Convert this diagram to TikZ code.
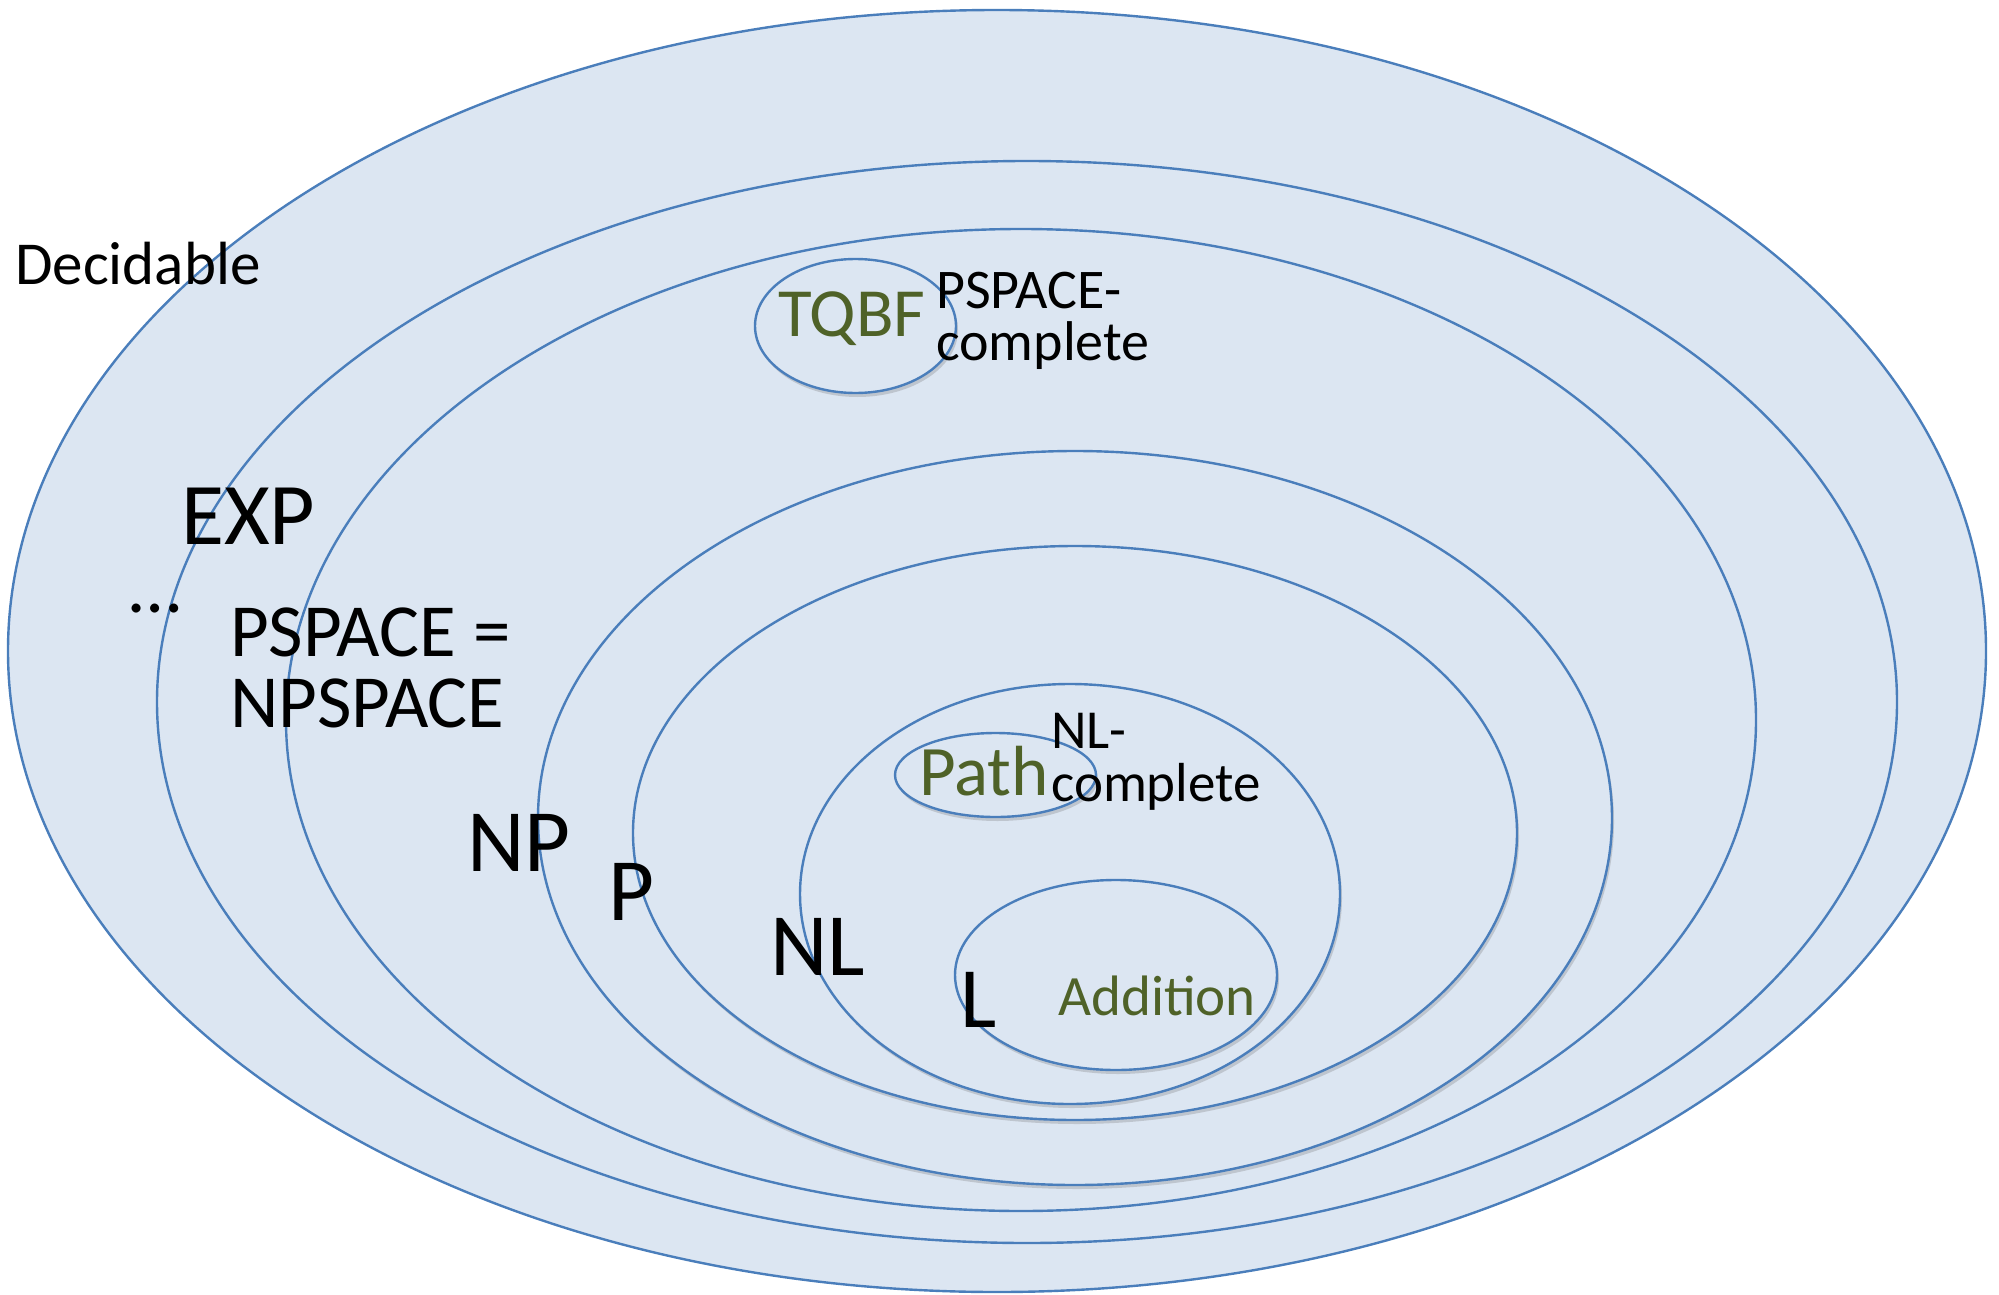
\documentclass[tikz,border=0pt]{standalone}
\usepackage{fontspec}
\setmainfont{Carlito}
\usetikzlibrary{shapes.geometric,shadows}
\definecolor{setfill}{HTML}{DCE6F2}
\definecolor{setline}{HTML}{4A7EBB}
\definecolor{probgreen}{HTML}{4F6228}
\tikzset{
  classset/.style={ellipse, draw=setline, fill=setfill, line width=2.4pt, inner sep=0pt, outer sep=0pt},
  shadowset/.style={classset, drop shadow={shadow xshift=2pt, shadow yshift=-4pt, opacity=0.25, fill=black!60}},
  lbl/.style={anchor=base west, inner sep=0pt, text=black},
  prob/.style={anchor=base west, inner sep=0pt, text=probgreen},
}
\newcommand{\fs}[1]{\fontsize{#1}{#1}\selectfont}
\begin{document}
\begin{tikzpicture}[x=1pt,y=-1pt]
\useasboundingbox (0,0) rectangle (1999,1295);
% nested sets
\node[classset, minimum width=1978pt, minimum height=1282pt] (dec) at (997,651) {};
\node[classset, minimum width=1740pt, minimum height=1082pt] (exp) at (1027,702) {};
\node[classset, minimum width=1470pt, minimum height=982pt] (pspace) at (1021,720) {};
\node[shadowset, minimum width=1074pt, minimum height=734pt] (np) at (1075,818) {};
\node[shadowset, minimum width=884pt, minimum height=574pt] (p) at (1075,833) {};
\node[shadowset, minimum width=540pt, minimum height=420pt] (nl) at (1070,894) {};
\node[shadowset, minimum width=322pt, minimum height=190pt] (l) at (1116,975) {};
\node[shadowset, minimum width=201pt, minimum height=84pt] (path) at (995.5,775) {};
\node[shadowset, minimum width=201pt, minimum height=134pt] (tqbf) at (855.5,326) {};
% labels
\node[lbl, font=\fs{61}] (tdec) at (15,284) {Decidable};
\node[lbl, font=\fs{88}] (texp) at (181,544) {EXP};
\node[lbl, font=\fs{75}] (tdots) at (129,612) {\dots};
\node[lbl, font=\fs{75}] (tps1) at (230,656) {PSPACE =};
\node[lbl, font=\fs{75}] (tps2) at (230,727) {NPSPACE};
\node[lbl, font=\fs{89}] (tnp) at (467,871) {NP};
\node[lbl, font=\fs{89}] (tp) at (608,920) {P};
\node[lbl, font=\fs{89}] (tnl) at (770,975) {NL};
\node[lbl, font=\fs{86}] (tl) at (960,1027) {L};
\node[prob, font=\fs{57}] (tadd) at (1058,1015) {Addition};
\node[prob, font=\fs{71}] (tpath) at (919,795) {Path};
\node[lbl, font=\fs{55}] (tnlc1) at (1051,748) {NL-};
\node[lbl, font=\fs{55}] (tnlc2) at (1051,801) {complete};
\node[prob, font=\fs{69}] (ttqbf) at (778,336) {TQBF};
\node[lbl, font=\fs{56}] (tpsc1) at (936,308) {PSPACE-};
\node[lbl, font=\fs{56}] (tpsc2) at (936,360) {complete};
\end{tikzpicture}
\end{document}
